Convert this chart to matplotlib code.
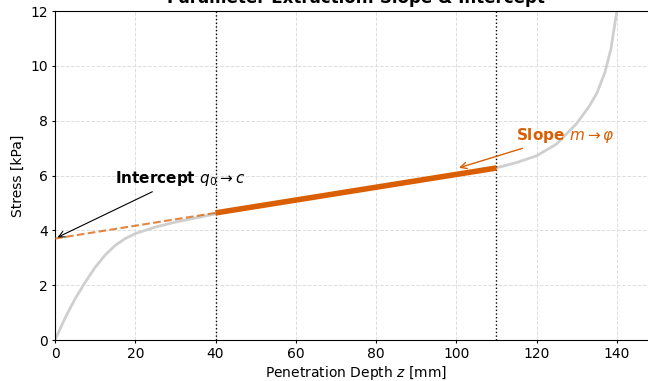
import numpy as np
import matplotlib
matplotlib.use('Agg')
import matplotlib.pyplot as plt

# penetration curve (depth in mm, stress in kPa)
depth = [0, 2.5, 5, 7.5, 10, 12.5, 15, 17.5, 20, 25, 30, 35, 40, 50, 60, 70, 80,
         90, 100, 110, 115, 120, 125, 130, 133, 135, 137, 138.5, 140, 141]
stress = [0.0, 0.8, 1.5, 2.1, 2.65, 3.1, 3.45, 3.7, 3.88, 4.12, 4.3, 4.45, 4.6,
          4.86, 5.1, 5.33, 5.57, 5.8, 6.03, 6.28, 6.47, 6.72, 7.15, 7.9, 8.5,
          9.0, 9.75, 10.6, 12.0, 13.0]

# linear fit over the middle section
fit_range = [40, 110]
slope_m = 0.0234
intercept_q0 = 3.70

ORANGE = '#d95f02'

fig = plt.figure(figsize=(6.48, 3.81), dpi=100)
ax = fig.add_axes([55 / 648, 41 / 381, 602 / 648, 329 / 381])

ax.plot(depth, stress, color='#cfcfcf', lw=2, zorder=2)

z_fit = np.array(fit_range, dtype=float)
ax.plot(z_fit, intercept_q0 + slope_m * z_fit, color=ORANGE, lw=4,
        solid_capstyle='butt', zorder=4)

z_ext = np.array([0, fit_range[0]], dtype=float)
ax.plot(z_ext, intercept_q0 + slope_m * z_ext, color=ORANGE, lw=1.5,
        ls='--', alpha=0.75, zorder=3)

for zv in fit_range:
    ax.axvline(zv, color='black', ls=':', lw=1, zorder=3)

ax.annotate(r'Intercept $q_0 \rightarrow c$', xy=(0, intercept_q0),
            xytext=(15, 5.9), fontsize=11, fontweight='bold',
            va='center', ha='left',
            arrowprops=dict(arrowstyle='->', color='black', lw=0.8))

ax.annotate(r'Slope $m \rightarrow \varphi$', xy=(100, 6.25),
            xytext=(114.8, 7.47), fontsize=11, fontweight='bold',
            color=ORANGE, va='center', ha='left',
            arrowprops=dict(arrowstyle='->', color=ORANGE, lw=1))

ax.set_xlim(0, 150)
ax.set_ylim(0, 12)
ax.set_xticks(np.arange(0, 141, 20))
ax.set_yticks(np.arange(0, 13, 2))
ax.tick_params(length=2, pad=3)
ax.grid(True, ls='--', color='#dddddd', lw=0.7)
ax.set_axisbelow(True)

ax.set_xlabel(r'Penetration Depth $z$ [mm]', fontsize=10, labelpad=2)
ax.set_ylabel('Stress [kPa]', fontsize=10, labelpad=4)
ax.set_title('Parameter Extraction: Slope & Intercept', fontsize=12,
             fontweight='bold')

fig.savefig('out.png', dpi=100)
